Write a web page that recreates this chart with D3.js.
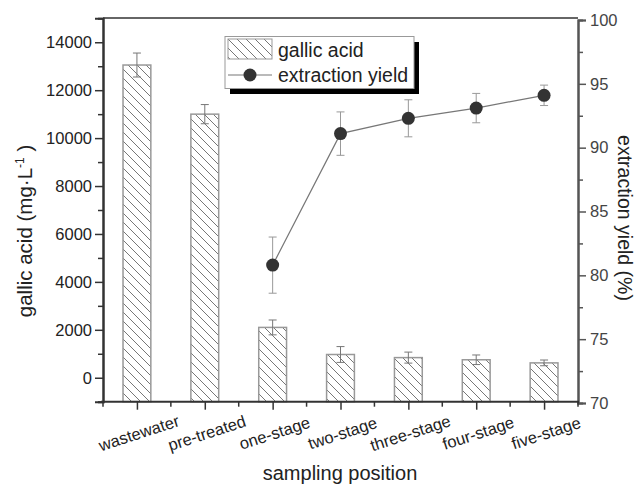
<!DOCTYPE html>
<html>
<head>
<meta charset="utf-8">
<script src="https://cdn.jsdelivr.net/npm/d3@7"></script>
<style>
    body { margin: 0; background: #fff; }
    text { font-family: "Liberation Sans", Arial, sans-serif; }
</style>
</head>
<body>
<script>
//chart data
var positions = ["wastewater", "pre-treated", "one-stage", "two-stage", "three-stage", "four-stage", "five-stage"];
var gallicAcid = [13050, 11000, 2100, 970, 840, 750, 620];
var gallicErr = [500, 400, 310, 330, 230, 200, 120];
var yieldPositions = ["one-stage", "two-stage", "three-stage", "four-stage", "five-stage"];
var extractionYield = [80.8, 91.1, 92.3, 93.1, 94.1];
var yieldErr = [2.2, 1.7, 1.45, 1.15, 0.8];
var leftTicks = [0, 2000, 4000, 6000, 8000, 10000, 12000, 14000];
var rightTicks = [70, 75, 80, 85, 90, 95, 100];

window.onload = setChart();

function setChart(){
    var width = 638,
        height = 486;

    var svg = d3.select("body")
        .append("svg")
        .attr("width", width)
        .attr("height", height);

    //hatch pattern for the bars
    var pat = svg.append("defs").append("pattern")
        .attr("id", "hatch")
        .attr("patternUnits", "userSpaceOnUse")
        .attr("width", 9)
        .attr("height", 9);
    pat.append("path")
        .attr("d", "M0,0 L9,9 M-4.5,4.5 L4.5,13.5 M4.5,-4.5 L13.5,4.5")
        .attr("stroke", "#777")
        .attr("stroke-width", 1);

    //scales
    var x = d3.scaleBand()
        .domain(positions)
        .range([103, 578]);

    var yLeft = d3.scaleLinear()
        .domain([-1000, 15000])
        .range([401.7, 18.3]);

    var yRight = d3.scaleLinear()
        .domain([70, 100])
        .range([403, 20]);

    var barW = x.bandwidth() * 0.41;

    //bars
    svg.selectAll(".bar")
        .data(gallicAcid)
        .enter()
        .append("rect")
        .attr("class", "bar")
        .attr("x", function(d, i){ return x(positions[i]) + x.bandwidth() / 2 - barW / 2; })
        .attr("y", function(d){ return yLeft(d); })
        .attr("width", barW)
        .attr("height", function(d){ return yLeft(-1000) - yLeft(d); })
        .attr("fill", "url(#hatch)")
        .attr("stroke", "#999")
        .attr("stroke-width", 1.5);

    //bar error bars
    var errG = svg.append("g")
        .attr("stroke", "#777")
        .attr("stroke-width", 1)
        .attr("fill", "none");
    gallicAcid.forEach(function(d, i){
        var cx = x(positions[i]) + x.bandwidth() / 2;
        var top = yLeft(d + gallicErr[i]),
            bot = yLeft(d - gallicErr[i]);
        errG.append("path")
            .attr("d", "M" + cx + "," + top + "V" + bot +
                "M" + (cx - 4) + "," + top + "H" + (cx + 4) +
                "M" + (cx - 4) + "," + bot + "H" + (cx + 4));
    });

    //yield line, error bars and markers
    var cxY = function(p){ return x(p) + x.bandwidth() / 2; };
    var line = d3.line()
        .x(function(d, i){ return cxY(yieldPositions[i]); })
        .y(function(d){ return yRight(d); });

    svg.append("path")
        .datum(extractionYield)
        .attr("d", line)
        .attr("fill", "none")
        .attr("stroke", "#777")
        .attr("stroke-width", 1.2);

    var yErrG = svg.append("g")
        .attr("stroke", "#999")
        .attr("stroke-width", 1)
        .attr("fill", "none");
    extractionYield.forEach(function(d, i){
        var cx = cxY(yieldPositions[i]);
        var top = yRight(d + yieldErr[i]),
            bot = yRight(d - yieldErr[i]);
        yErrG.append("path")
            .attr("d", "M" + cx + "," + top + "V" + bot +
                "M" + (cx - 4) + "," + top + "H" + (cx + 4) +
                "M" + (cx - 4) + "," + bot + "H" + (cx + 4));
    });

    svg.selectAll(".pt")
        .data(extractionYield)
        .enter()
        .append("circle")
        .attr("class", "pt")
        .attr("cx", function(d, i){ return cxY(yieldPositions[i]); })
        .attr("cy", function(d){ return yRight(d); })
        .attr("r", 6.5)
        .attr("fill", "#333");

    //left axis with minor ticks
    var leftG = svg.append("g")
        .attr("transform", "translate(103,0)")
        .call(d3.axisLeft(yLeft).tickValues(leftTicks).tickSize(8).tickPadding(3).tickFormat(d3.format("d")));
    leftG.append("g")
        .call(d3.axisLeft(yLeft).tickValues(d3.range(-1000, 15000, 2000)).tickSize(5).tickFormat(""));
    leftG.selectAll("path.domain").attr("stroke", "#333").attr("stroke-width", 2);
    leftG.selectAll("line").attr("stroke", "#333").attr("stroke-width", 1.5);
    leftG.selectAll("text")
        .attr("fill", "#222")
        .style("font-size", "16.5px");

    //right axis with minor ticks
    var rightG = svg.append("g")
        .attr("transform", "translate(578,0)")
        .call(d3.axisRight(yRight).tickValues(rightTicks).tickSize(8).tickPadding(4));
    rightG.append("g")
        .call(d3.axisRight(yRight).tickValues(d3.range(72.5, 100, 5)).tickSize(5).tickFormat(""));
    rightG.selectAll("path.domain").attr("stroke", "#555").attr("stroke-width", 2);
    rightG.selectAll("line").attr("stroke", "#555").attr("stroke-width", 1.5);
    rightG.selectAll("text")
        .attr("fill", "#444")
        .style("font-size", "16.5px");

    //top frame line
    svg.append("line")
        .attr("x1", 103).attr("x2", 578)
        .attr("y1", 18).attr("y2", 18)
        .attr("stroke", "#333")
        .attr("stroke-width", 1.5);

    //bottom axis: major ticks at centres, minor ticks at band edges
    var bottomG = svg.append("g")
        .attr("transform", "translate(0,401.7)");
    var xCentre = d3.scalePoint().domain(positions).range([x(positions[0]) + x.bandwidth() / 2, x(positions[6]) + x.bandwidth() / 2]);
    bottomG.call(d3.axisBottom(xCentre).tickSize(8).tickFormat(""));
    var edges = d3.range(positions.length + 1).map(function(i){ return 103 + i * x.step(); });
    bottomG.selectAll(".minor")
        .data(edges)
        .enter()
        .append("line")
        .attr("class", "minor")
        .attr("x1", function(d){ return d; })
        .attr("x2", function(d){ return d; })
        .attr("y1", 0)
        .attr("y2", 5);
    bottomG.selectAll("path.domain")
        .attr("d", "M101,0H579")
        .attr("stroke", "#333")
        .attr("stroke-width", 2);
    bottomG.selectAll("line").attr("stroke", "#333").attr("stroke-width", 1.5);

    //rotated category labels
    svg.selectAll(".xlab")
        .data(positions)
        .enter()
        .append("text")
        .attr("class", "xlab")
        .attr("transform", function(d){ return "translate(" + (xCentre(d) + 2) + ",433) rotate(-18)"; })
        .attr("text-anchor", "middle")
        .attr("dy", "0.35em")
        .style("font-size", "16.5px")
        .attr("fill", "#222")
        .text(function(d){ return d; });

    //axis titles
    svg.append("text")
        .attr("x", 340)
        .attr("y", 480)
        .attr("text-anchor", "middle")
        .style("font-size", "20px")
        .attr("fill", "#222")
        .text("sampling position");

    var lt = svg.append("text")
        .attr("transform", "translate(32,231) rotate(-90)")
        .attr("text-anchor", "middle")
        .style("font-size", "20.5px")
        .attr("fill", "#222");
    lt.append("tspan").text("gallic acid (mg·L");
    lt.append("tspan").attr("dy", "-8").style("font-size", "12px").text("-1");
    lt.append("tspan").attr("dy", "8").text(" )");

    svg.append("text")
        .attr("transform", "translate(618,218) rotate(90)")
        .attr("text-anchor", "middle")
        .style("font-size", "19.5px")
        .attr("fill", "#222")
        .text("extraction yield (%)");

    //legend with drop shadow
    var leg = svg.append("g");
    leg.append("rect")
        .attr("x", 230).attr("y", 42)
        .attr("width", 189).attr("height", 52)
        .attr("fill", "#000");
    leg.append("rect")
        .attr("x", 225).attr("y", 36.5)
        .attr("width", 189).attr("height", 52)
        .attr("fill", "#fff")
        .attr("stroke", "#999")
        .attr("stroke-width", 1);
    leg.append("rect")
        .attr("x", 228).attr("y", 39)
        .attr("width", 44).attr("height", 20)
        .attr("fill", "url(#hatch)")
        .attr("stroke", "#999")
        .attr("stroke-width", 1);
    leg.append("line")
        .attr("x1", 228).attr("x2", 272)
        .attr("y1", 75).attr("y2", 75)
        .attr("stroke", "#777")
        .attr("stroke-width", 1.2);
    leg.append("circle")
        .attr("cx", 250).attr("cy", 75)
        .attr("r", 6.5)
        .attr("fill", "#333");
    leg.append("text")
        .attr("x", 278).attr("y", 56.5)
        .style("font-size", "19.5px")
        .attr("fill", "#222")
        .text("gallic acid");
    leg.append("text")
        .attr("x", 278).attr("y", 81.5)
        .style("font-size", "19.5px")
        .attr("fill", "#222")
        .text("extraction yield");
};
</script>
</body>
</html>
